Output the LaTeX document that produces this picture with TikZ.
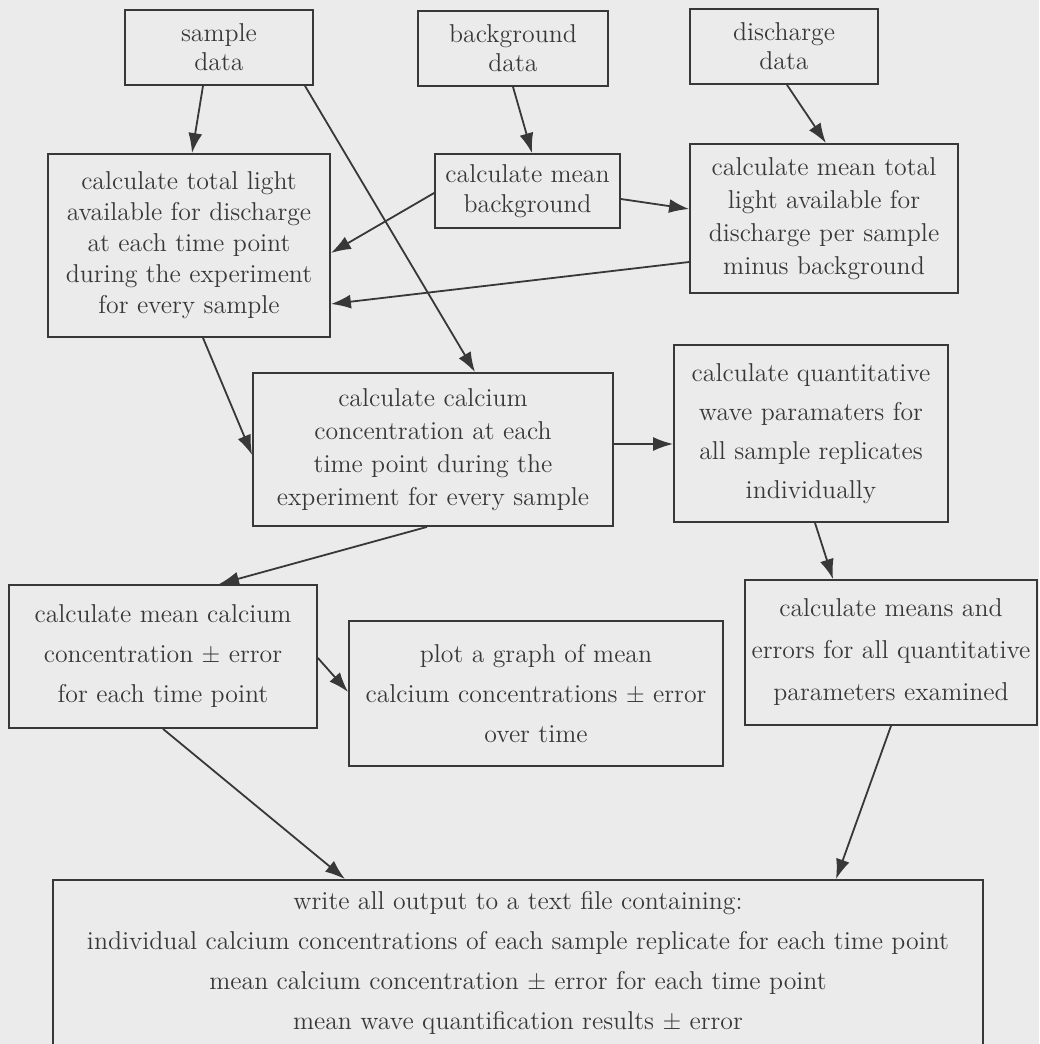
\documentclass[tikz,border=0pt]{standalone}
\usetikzlibrary{arrows.meta,calc}
\definecolor{bgc}{HTML}{EBEBEB}
\definecolor{ink}{HTML}{383838}
\begin{document}
\begin{tikzpicture}[x=0.5pt,y=-0.5pt,
  box/.style={draw=ink,line width=0.9pt,text=ink,align=center,inner sep=0pt},
  arr/.style={draw=ink,line width=0.9pt,-{Latex[length=10pt,width=7pt]}}]
\fill[bgc] (0,0) rectangle (1039,1044);
\useasboundingbox (0,0) rectangle (1039,1044);
\node[box,minimum width=94pt,minimum height=37.5pt,font=\fontsize{12.9}{14.5}\selectfont] (smp) at (219,47.5) {sample\\data};
\node[box,minimum width=95pt,minimum height=37.5pt,font=\fontsize{12.9}{14.5}\selectfont] (bgd) at (513,48.5) {background\\data};
\node[box,minimum width=94pt,minimum height=37.5pt,font=\fontsize{12.9}{14.5}\selectfont] (dis) at (784,46.5) {discharge\\data};
\node[box,minimum width=141pt,minimum height=91.5pt,font=\fontsize{12.9}{15.5}\selectfont] (tot) at (189,245.5) {calculate total light\\available for discharge\\at each time point\\during the experiment\\for every sample};
\node[box,minimum width=92.5pt,minimum height=37pt,font=\fontsize{12.9}{15}\selectfont] (mbg) at (527.5,191) {calculate mean\\background};
\node[box,minimum width=134pt,minimum height=74.5pt,font=\fontsize{12.9}{16.5}\selectfont] (mtl) at (824,218.5) {calculate mean total\\light available for\\discharge per sample\\minus background};
\node[box,minimum width=180pt,minimum height=76.5pt,font=\fontsize{12.9}{16.5}\selectfont] (cal) at (433,449.5) {calculate calcium\\concentration at each\\time point during the\\experiment for every sample};
\node[box,minimum width=137pt,minimum height=88.5pt,font=\fontsize{12.9}{19.5}\selectfont] (qnt) at (811,433.5) {calculate quantitative\\wave paramaters for\\all sample replicates\\individually};
\node[box,minimum width=154pt,minimum height=71.5pt,font=\fontsize{12.9}{20}\selectfont] (mca) at (163,656.5) {calculate mean calcium\\concentration $\pm$ error\\for each time point};
\node[box,minimum width=187pt,minimum height=72.5pt,font=\fontsize{12.9}{20}\selectfont] (plt) at (536,693.5) {plot a graph of mean\\calcium concentrations $\pm$ error\\over time};
\node[box,minimum width=146pt,minimum height=72.5pt,font=\fontsize{12.9}{21}\selectfont] (mer) at (891,652.5) {calculate means and\\errors for all quantitative\\parameters examined};
\node[box,minimum width=465pt,minimum height=83pt,font=\fontsize{12.9}{20}\selectfont] (out) at (518,963) {write all output to a text file containing:\\individual calcium concentrations of each sample replicate for each time point\\mean calcium concentration $\pm$ error for each time point\\mean wave quantification results $\pm$ error};
\draw[arr] ($(smp.south)+(-16,0)$) -- ($(tot.north)+(3,0)$);
\draw[arr] ($(smp.south)+(86,0)$) -- ($(cal.north)+(42,0)$);
\draw[arr] (bgd.south) -- ($(mbg.north)+(4.5,0)$);
\draw[arr] ($(dis.south)+(3,0)$) -- ($(mtl.north)+(2,0)$);
\draw[arr] ($(mbg.west)+(0,2)$) -- ($(tot.east)+(0,7.5)$);
\draw[arr] ($(mbg.east)+(0,8)$) -- ($(mtl.west)+(0,-9.5)$);
\draw[arr] ($(mtl.west)+(0,43.5)$) -- ($(tot.east)+(0,58.5)$);
\draw[arr] ($(tot.south)+(14,0)$) -- ($(cal.west)+(0,5.5)$);
\draw[arr] ($(cal.east)+(0,-5.5)$) -- ($(qnt.west)+(0,10.5)$);
\draw[arr] ($(cal.south)+(-6,0)$) -- ($(mca.north)+(56,0)$);
\draw[arr] ($(qnt.south)+(4,0)$) -- ($(mer.north)+(-58,0)$);
\draw[arr] ($(mca.east)+(0,1.5)$) -- ($(plt.west)+(0,-1.5)$);
\draw[arr] (mca.south) -- ($(out.north)+(-173,0)$);
\draw[arr] (mer.south) -- ($(out.north)+(318,0)$);
\end{tikzpicture}
\end{document}
